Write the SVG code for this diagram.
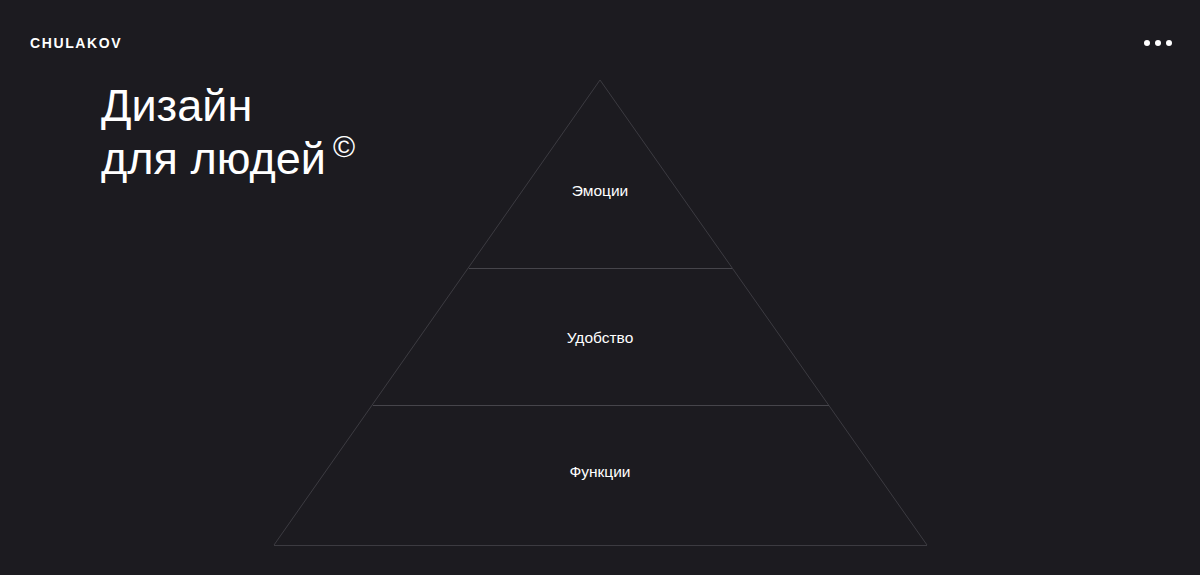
<svg xmlns="http://www.w3.org/2000/svg" width="1200" height="575" viewBox="0 0 1200 575">
<style>
.edge{stroke:#3c3b41;stroke-width:1;fill:none}
.div{stroke:#46454b;stroke-width:1.2}
.lbl{font-family:"Liberation Sans",Arial,sans-serif;font-size:15.5px;fill:#ffffff;text-anchor:middle}
.title{font-family:"Liberation Sans",Arial,sans-serif;font-size:45px;fill:#ffffff}
</style>
<rect width="1200" height="575" fill="#1c1b20"/>
<g id="header">
<text x="30" y="48" font-family="Liberation Sans,Arial,sans-serif" font-weight="bold" font-size="14" letter-spacing="1.6" fill="#ffffff">CHULAKOV</text>
<circle cx="1147" cy="43" r="3" fill="#fff"/>
<circle cx="1158" cy="43" r="3" fill="#fff"/>
<circle cx="1169" cy="43" r="3" fill="#fff"/>
</g>
<g id="title">
<text class="title" x="101" y="121">Дизайн</text>
<text class="title" x="101" y="174">для людей</text>
<text x="333" y="157" font-family="Liberation Sans,Arial,sans-serif" font-size="30" fill="#fff">©</text>
</g>
<g id="connectors">
<polyline class="edge" points="274,545 600,80 927,545"/>
<line class="edge" x1="274" y1="545.5" x2="927" y2="545.5"/>
<line class="div" x1="469" y1="268.5" x2="732" y2="268.5"/>
<line class="div" x1="373" y1="405.5" x2="829" y2="405.5"/>
</g>
<g id="node-emotions"><text class="lbl" x="600" y="196">Эмоции</text></g>
<g id="node-usability"><text class="lbl" x="600" y="343">Удобство</text></g>
<g id="node-functions"><text class="lbl" x="600" y="477">Функции</text></g>
</svg>
